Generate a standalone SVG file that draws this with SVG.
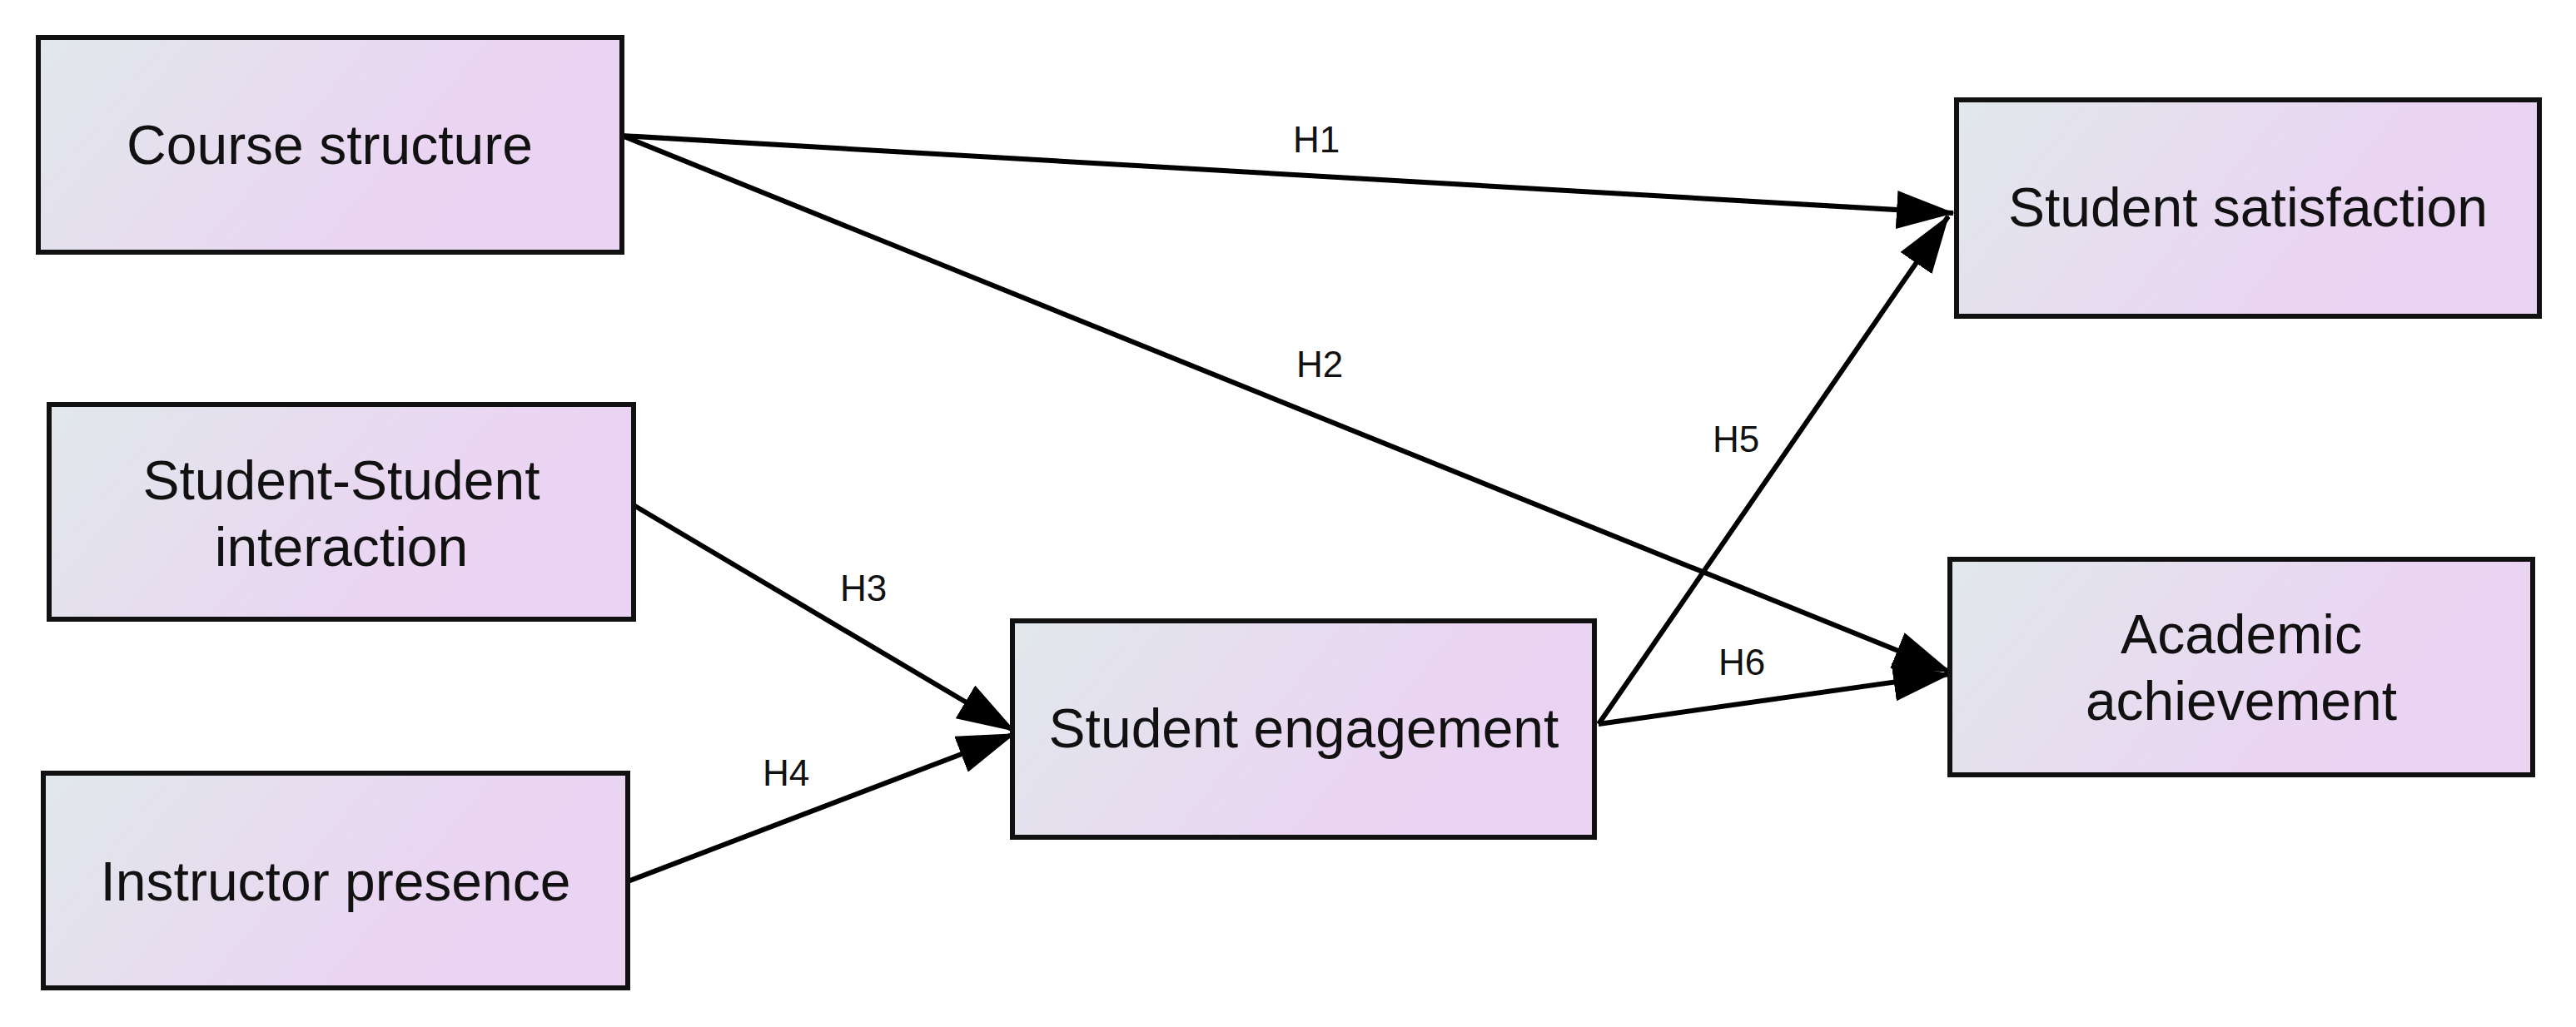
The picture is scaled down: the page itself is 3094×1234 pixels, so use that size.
<svg xmlns="http://www.w3.org/2000/svg" width="3094" height="1234" viewBox="0 0 3094 1234">
<defs>
<linearGradient id="g" x1="0" y1="0" x2="1" y2="0.3">
<stop offset="0" stop-color="#e1e8eb"/><stop offset="0.75" stop-color="#ead5f2"/><stop offset="1" stop-color="#ead3f3"/>
</linearGradient>
<marker id="a" viewBox="0 0 70 46" refX="68" refY="23" markerWidth="70" markerHeight="46" markerUnits="userSpaceOnUse" orient="auto">
<path d="M0,0 L70,23 L0,46 Z" fill="#000"/>
</marker>
</defs>
<style>
.n{fill:url(#g);stroke:#111;stroke-width:6}
.t{font-family:"Liberation Sans",Arial,sans-serif;font-size:66px;fill:#111;text-anchor:middle}
.l{font-family:"Liberation Sans",Arial,sans-serif;font-size:44px;fill:#111;text-anchor:middle}
.e{stroke:#000;stroke-width:6;fill:none;marker-end:url(#a)}
</style>
<rect width="3094" height="1234" fill="#fff"/>
<g id="connectors">
<line class="e" x1="747" y1="163" x2="2346" y2="256"/>
<line class="e" x1="747" y1="163" x2="2342" y2="807"/>
<line class="e" x1="761" y1="607" x2="1218" y2="878"/>
<line class="e" x1="754" y1="1059" x2="1218" y2="882"/>
<line class="e" x1="1920" y1="870" x2="2340" y2="260"/>
<line class="e" x1="1920" y1="870" x2="2342" y2="810"/>
<text class="l" x="1581" y="183">H1</text>
<text class="l" x="1585" y="453">H2</text>
<text class="l" x="1037" y="722">H3</text>
<text class="l" x="944" y="944">H4</text>
<text class="l" x="2085" y="543">H5</text>
<text class="l" x="2092" y="811">H6</text>
</g>
<g id="course"><rect class="n" x="46" y="45" width="701" height="258"/><text class="t" x="396" y="197">Course structure</text></g>
<g id="ss"><rect class="n" x="59" y="486" width="702" height="258"/><text class="t" x="410" y="600">Student-Student</text><text class="t" x="410" y="680">interaction</text></g>
<g id="instructor"><rect class="n" x="52" y="929" width="702" height="258"/><text class="t" x="403" y="1082">Instructor presence</text></g>
<g id="engagement"><rect class="n" x="1216" y="746" width="699" height="260"/><text class="t" x="1566" y="898">Student engagement</text></g>
<g id="satisfaction"><rect class="n" x="2350" y="120" width="700" height="260"/><text class="t" x="2700" y="272">Student satisfaction</text></g>
<g id="achievement"><rect class="n" x="2342" y="672" width="700" height="259"/><text class="t" x="2692" y="785">Academic</text><text class="t" x="2692" y="865">achievement</text></g>
</svg>
